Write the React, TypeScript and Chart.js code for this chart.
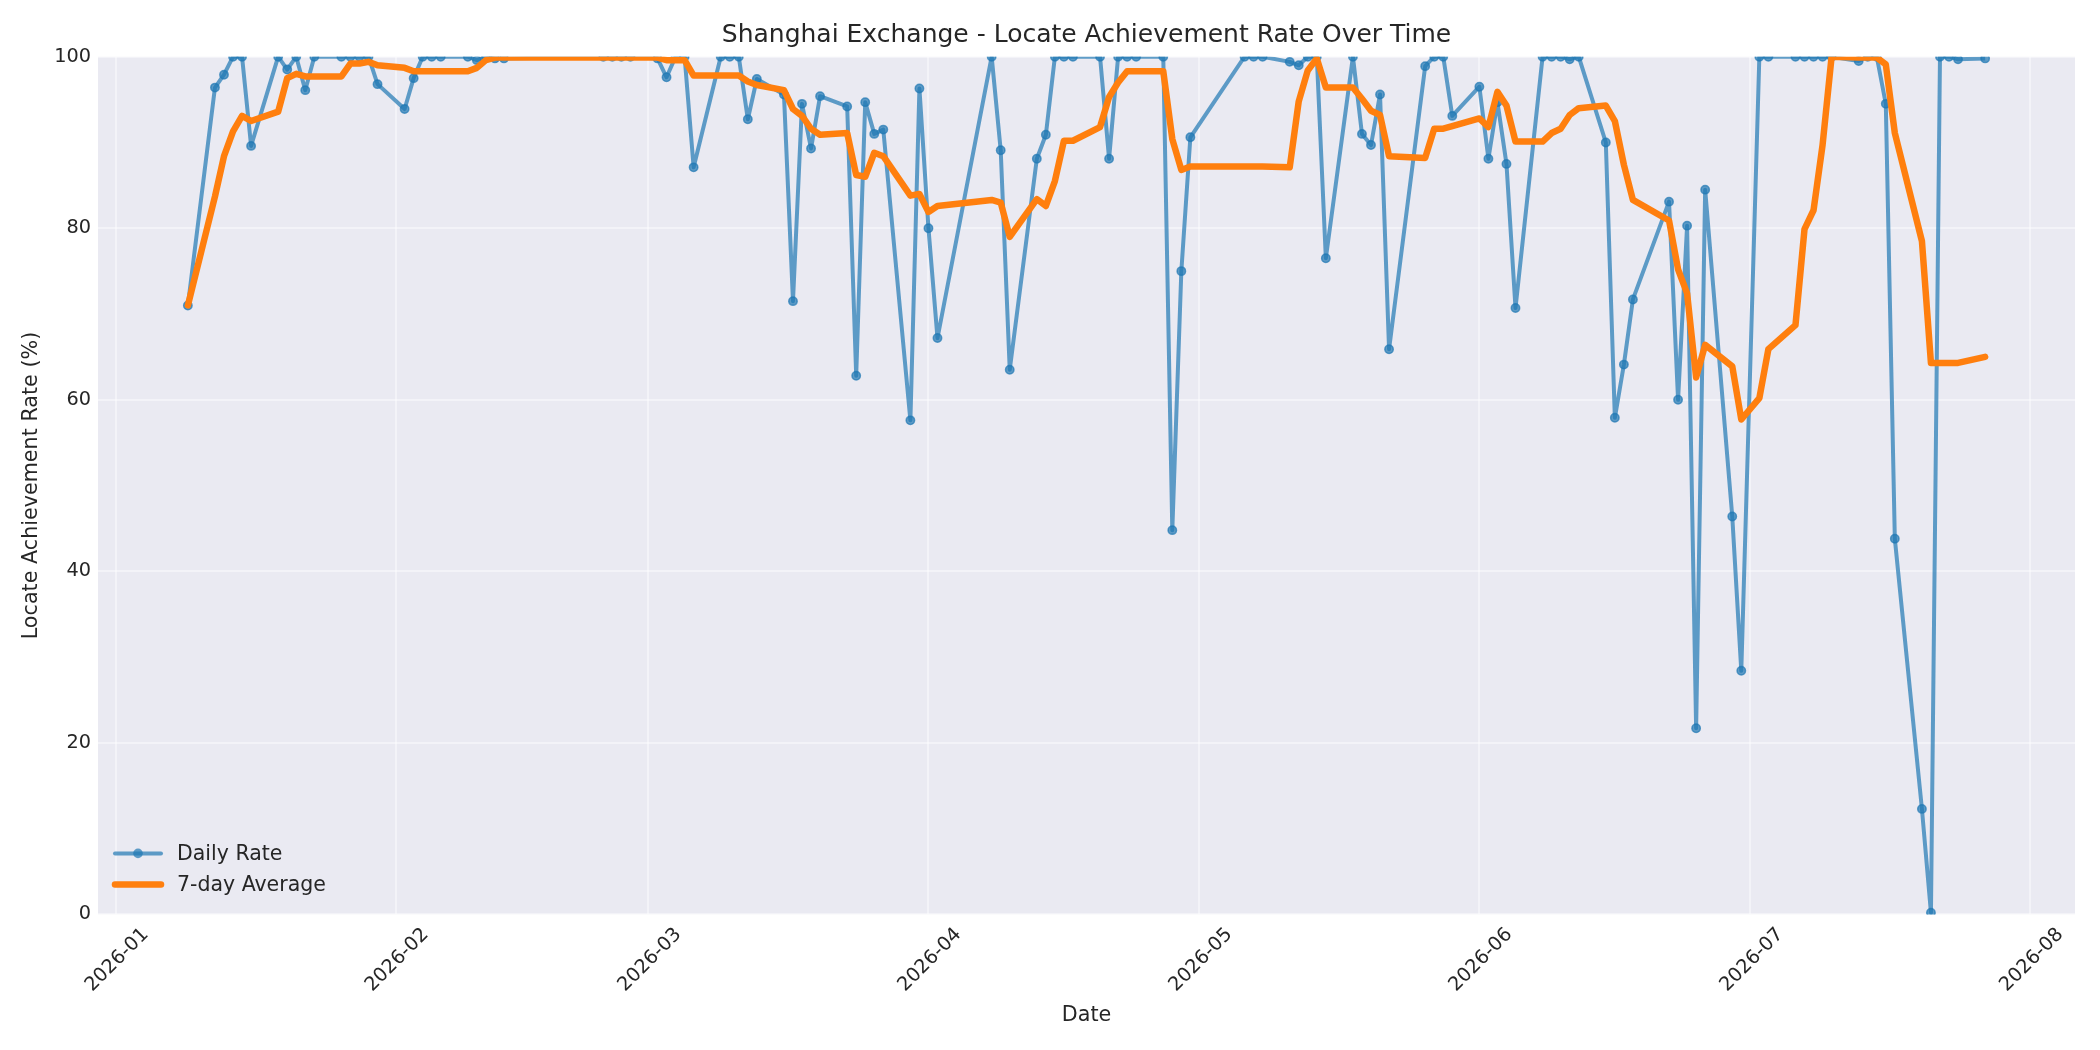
import { useEffect, useRef } from 'react';
import { Chart, ChartConfiguration, registerables } from 'chart.js';

Chart.register(...registerables);

// Trading days shown on the chart
const dates = [
  '2026-01-09', '2026-01-12', '2026-01-13', '2026-01-14', '2026-01-15', '2026-01-16',
  '2026-01-19', '2026-01-20', '2026-01-21', '2026-01-22', '2026-01-23',
  '2026-01-26', '2026-01-27', '2026-01-28', '2026-01-29', '2026-01-30',
  '2026-02-02', '2026-02-03', '2026-02-04', '2026-02-05', '2026-02-06',
  '2026-02-09', '2026-02-10', '2026-02-11', '2026-02-12', '2026-02-13',
  '2026-02-24', '2026-02-25', '2026-02-26', '2026-02-27',
  '2026-03-02', '2026-03-03', '2026-03-04', '2026-03-05', '2026-03-06',
  '2026-03-09', '2026-03-10', '2026-03-11', '2026-03-12', '2026-03-13',
  '2026-03-16', '2026-03-17', '2026-03-18', '2026-03-19', '2026-03-20',
  '2026-03-23', '2026-03-24', '2026-03-25', '2026-03-26', '2026-03-27',
  '2026-03-30', '2026-03-31', '2026-04-01', '2026-04-02',
  '2026-04-08', '2026-04-09', '2026-04-10',
  '2026-04-13', '2026-04-14', '2026-04-15', '2026-04-16', '2026-04-17',
  '2026-04-20', '2026-04-21', '2026-04-22', '2026-04-23', '2026-04-24',
  '2026-04-27', '2026-04-28', '2026-04-29', '2026-04-30',
  '2026-05-06', '2026-05-07', '2026-05-08',
  '2026-05-11', '2026-05-12', '2026-05-13', '2026-05-14', '2026-05-15',
  '2026-05-18', '2026-05-19', '2026-05-20', '2026-05-21', '2026-05-22',
  '2026-05-26', '2026-05-27', '2026-05-28', '2026-05-29',
  '2026-06-01', '2026-06-02', '2026-06-03', '2026-06-04', '2026-06-05',
  '2026-06-08', '2026-06-09', '2026-06-10', '2026-06-11', '2026-06-12',
  '2026-06-15', '2026-06-16', '2026-06-17', '2026-06-18',
  '2026-06-22', '2026-06-23', '2026-06-24', '2026-06-25', '2026-06-26',
  '2026-06-29', '2026-06-30', '2026-07-02', '2026-07-03',
  '2026-07-06', '2026-07-07', '2026-07-08', '2026-07-09', '2026-07-10',
  '2026-07-13', '2026-07-14', '2026-07-15', '2026-07-16', '2026-07-17',
  '2026-07-20', '2026-07-21', '2026-07-22', '2026-07-23', '2026-07-24',
  '2026-07-27',
];

const dailyRate = [
  71.0, 96.4, 97.9, 100, 100, 89.6,
  100, 98.5, 100, 96.1, 100,
  100, 100, 100, 100, 96.8,
  93.9, 97.5, 100, 100, 100,
  100, 99.6, 100, 99.8, 99.8,
  100, 100, 100, 100,
  99.8, 97.6, 100, 100, 87.1,
  100, 100, 100, 92.7, 97.4,
  95.6, 71.5, 94.5, 89.3, 95.4,
  94.2, 62.8, 94.7, 91.0, 91.5,
  57.6, 96.3, 80.0, 67.2,
  100, 89.1, 63.5,
  88.1, 90.9, 100, 100, 100,
  100, 88.1, 100, 100, 100,
  100, 44.8, 75.0, 90.6,
  100, 100, 100,
  99.4, 99.0, 100, 100, 76.5,
  100, 91.0, 89.7, 95.6, 65.9,
  98.9, 100, 100, 93.1,
  96.5, 88.1, 94.7, 87.5, 70.7,
  100, 100, 100, 99.7, 100,
  90.0, 57.9, 64.1, 71.7,
  83.1, 60.0, 80.3, 21.7, 84.5,
  46.4, 28.4, 100, 100,
  100, 100, 100, 100, 100,
  99.5, 100, 100, 94.5, 43.8,
  12.3, 0.2, 100, 100, 99.7,
  99.8,
];

const sevenDayAvg = [
  71.0, 83.7, 88.4, 91.3, 93.1, 92.5,
  93.6, 97.5, 98.0, 97.7, 97.7,
  97.7, 99.2, 99.2, 99.4, 99.0,
  98.7, 98.3, 98.3, 98.3, 98.3,
  98.3, 98.7, 99.6, 99.9, 99.9,
  99.9, 99.9, 99.9, 99.9,
  99.9, 99.6, 99.6, 99.6, 97.8,
  97.8, 97.8, 97.8, 97.1, 96.7,
  96.1, 93.9, 93.1, 91.6, 90.9,
  91.1, 86.2, 86.0, 88.8, 88.4,
  83.8, 84.0, 81.9, 82.6,
  83.3, 83.0, 79.0,
  83.4, 82.6, 85.5, 90.2, 90.2,
  91.8, 95.3, 97.0, 98.3, 98.3,
  98.3, 90.4, 86.8, 87.2,
  87.2, 87.2, 87.2,
  87.1, 94.8, 98.4, 99.8, 96.4,
  96.4, 95.1, 93.7, 93.2, 88.4,
  88.2, 91.6, 91.6, 91.9,
  92.8, 91.8, 95.9, 94.3, 90.1,
  90.1, 91.1, 91.6, 93.2, 94.0,
  94.3, 92.5, 87.4, 83.3,
  80.9, 75.2, 72.4, 62.6, 66.4,
  63.9, 57.7, 60.2, 65.9,
  68.7, 79.9, 82.1, 89.7, 100,
  99.9, 99.9, 99.9, 99.1, 91.1,
  78.5, 64.3, 64.3, 64.3, 64.3,
  65.0,
];

const monthTicks = [
  '2026-01-01', '2026-02-01', '2026-03-01', '2026-04-01',
  '2026-05-01', '2026-06-01', '2026-07-01', '2026-08-01',
];
const yTicks = [0, 20, 40, 60, 80, 100];

const FONT = "'DejaVu Sans', 'Liberation Sans', sans-serif";
const TEXT = '#262626';
const BLUE = 'rgba(31, 119, 180, 0.7)';
const ORANGE = '#ff7f0e';
const PLOT_BG = '#eaeaf2';
const GRID = 'rgba(255, 255, 255, 0.45)';

const dayOf = (d: string) =>
  (Date.parse(d + 'T00:00:00Z') - Date.parse('2026-01-01T00:00:00Z')) / 86400000;

const days = dates.map(dayOf);
const span = days[days.length - 1] - days[0];
const xMin = days[0] - span * 0.05;
const xMax = days[days.length - 1] + span * 0.05;

const backgroundPlugin = {
  id: 'plotBackground',
  beforeDraw(chart: Chart) {
    const { ctx, chartArea, width, height } = chart;
    ctx.save();
    ctx.fillStyle = '#ffffff';
    ctx.fillRect(0, 0, width, height);
    ctx.fillStyle = PLOT_BG;
    ctx.fillRect(chartArea.left, chartArea.top, chartArea.right - chartArea.left, chartArea.bottom - chartArea.top);
    ctx.restore();
  },
};

// matplotlib-like legend, lower left inside the axes
const insideLegendPlugin = {
  id: 'insideLegend',
  afterDraw(chart: Chart) {
    const { ctx, chartArea } = chart;
    const x0 = chartArea.left + 17;
    const x1 = chartArea.left + 63;
    const rows = [
      { label: chart.data.datasets[0].label as string, y: chartArea.bottom - 61, color: BLUE, lw: 4, marker: true },
      { label: chart.data.datasets[1].label as string, y: chartArea.bottom - 30, color: ORANGE, lw: 6.5, marker: false },
    ];
    ctx.save();
    rows.forEach((r) => {
      ctx.strokeStyle = r.color;
      ctx.lineWidth = r.lw;
      ctx.lineCap = 'round';
      ctx.beginPath();
      ctx.moveTo(x0, r.y);
      ctx.lineTo(x1, r.y);
      ctx.stroke();
      if (r.marker) {
        ctx.fillStyle = r.color;
        ctx.beginPath();
        ctx.arc((x0 + x1) / 2, r.y, 4.8, 0, Math.PI * 2);
        ctx.fill();
      }
      ctx.fillStyle = TEXT;
      ctx.font = `20.5px ${FONT}`;
      ctx.textAlign = 'left';
      ctx.textBaseline = 'middle';
      ctx.fillText(r.label, chartArea.left + 79, r.y + 1);
    });
    ctx.restore();
  },
};

export default function App() {
  const canvasRef = useRef<HTMLCanvasElement>(null);
  const chartRef = useRef<Chart | null>(null);

  useEffect(() => {
    document.body.style.margin = '0';
    if (!canvasRef.current) return;
    const ctx = canvasRef.current.getContext('2d');
    if (!ctx) return;

    if (chartRef.current) {
      chartRef.current.destroy();
    }

    const config: ChartConfiguration = {
      type: 'line',
      data: {
        datasets: [
          {
            label: 'Daily Rate',
            data: days.map((d, i) => ({ x: d, y: dailyRate[i] })),
            borderColor: BLUE,
            backgroundColor: BLUE,
            borderWidth: 4,
            pointRadius: 4.2,
            pointBorderWidth: 1.5,
            pointBackgroundColor: BLUE,
            pointBorderColor: BLUE,
            borderJoinStyle: 'round',
            tension: 0,
            fill: false,
            clip: 0,
            order: 1,
          },
          {
            label: '7-day Average',
            data: days.map((d, i) => ({ x: d, y: sevenDayAvg[i] })),
            borderColor: ORANGE,
            backgroundColor: ORANGE,
            borderWidth: 6.5,
            pointRadius: 0,
            borderJoinStyle: 'round',
            borderCapStyle: 'round',
            tension: 0,
            fill: false,
            clip: 0,
            order: 0,
          },
        ],
      },
      options: {
        responsive: false,
        animation: false,
        devicePixelRatio: 1,
        layout: { padding: { left: 0, right: 25, top: 0, bottom: 0 } },
        plugins: {
          legend: { display: false },
          tooltip: { enabled: false },
          title: {
            display: true,
            text: 'Shanghai Exchange - Locate Achievement Rate Over Time',
            color: TEXT,
            fullSize: false,
            font: { family: FONT, size: 25, weight: 'normal' },
            padding: { top: 20, bottom: 6.7 },
          },
        },
        scales: {
          x: {
            type: 'linear',
            min: xMin,
            max: xMax,
            afterBuildTicks: (scale) => {
              scale.ticks = monthTicks.map((d) => ({ value: dayOf(d) }));
            },
            afterFit: (scale) => {
              scale.height = 135.6;
            },
            grid: { color: GRID, lineWidth: 2, drawTicks: false },
            border: { display: false },
            ticks: {
              autoSkip: false,
              minRotation: 45,
              maxRotation: 45,
              labelOffset: 30,
              padding: 9,
              color: TEXT,
              font: { family: FONT, size: 19.3 },
              callback: (value) => {
                const hit = monthTicks.find((d) => Math.abs(dayOf(d) - Number(value)) < 0.01);
                return hit ? hit.slice(0, 7) : '';
              },
            },
            title: {
              display: true,
              text: 'Date',
              color: TEXT,
              font: { family: FONT, size: 20.7 },
              padding: { top: 0, bottom: 22 },
            },
          },
          y: {
            min: 0,
            max: 100,
            afterBuildTicks: (scale) => {
              scale.ticks = yTicks.map((v) => ({ value: v }));
            },
            afterFit: (scale) => {
              scale.width = 98;
            },
            grid: { color: GRID, lineWidth: 2, drawTicks: false },
            border: { display: false },
            ticks: {
              padding: 7,
              color: TEXT,
              font: { family: FONT, size: 19.3 },
            },
            title: {
              display: true,
              text: 'Locate Achievement Rate (%)',
              color: TEXT,
              font: { family: FONT, size: 20.7 },
              padding: { top: 19.6, bottom: 0 },
            },
          },
        },
      },
      plugins: [backgroundPlugin, insideLegendPlugin],
    };

    chartRef.current = new Chart(ctx, config);

    return () => {
      if (chartRef.current) {
        chartRef.current.destroy();
        chartRef.current = null;
      }
    };
  }, []);

  return (
    <div style={{ width: 2100, height: 1050, background: '#ffffff' }}>
      <canvas ref={canvasRef} width={2100} height={1050} />
    </div>
  );
}
